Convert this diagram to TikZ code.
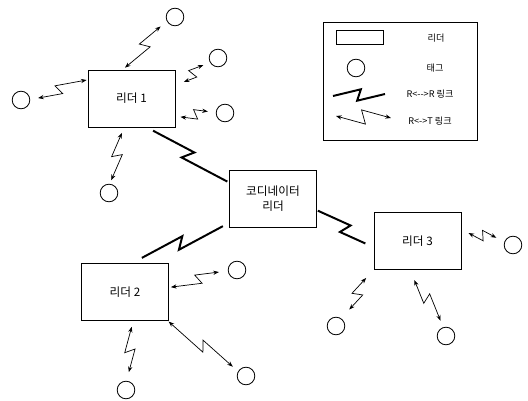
\documentclass[tikz,border=0pt]{standalone}
\usepackage{fontspec}
\newfontfamily\krfont{Noto Sans CJK KR}
\usetikzlibrary{calc,arrows.meta}
\begin{document}
\begin{tikzpicture}[
  x=0.025cm, y=-0.025cm,
  font=\krfont\fontsize{8.3}{11}\selectfont,
  rnode/.style={rectangle, draw, minimum width=2.175cm, minimum height=1.425cm, inner sep=0pt, align=center},
  tnode/.style={circle, draw, minimum size=0.44cm, inner sep=0pt},
  keytext/.style={font=\krfont\fontsize{6.5}{8}\selectfont},
  zig/.style={to path={-- ($(\tikztostart)!0.54!(\tikztotarget)!#1!90:(\tikztotarget)$) -- ($(\tikztostart)!0.46!(\tikztotarget)!#1!-90:(\tikztotarget)$) -- (\tikztotarget)}},
  rrlink/.style={line width=1.4pt, miter limit=4, zig=#1},
  rrlink/.default=4pt,
  rtlink/.style={line width=0.5pt, {Stealth[length=4pt,width=3pt]}-{Stealth[length=4pt,width=3pt]}, zig=#1},
  rtlink/.default=-3.5pt,
  line width=0.6pt
]
  \useasboundingbox (0,0) rectangle (528,401);

  \node[rnode] (l1) at (131.5,98.5) {리더 1};
  \node[rnode] (c) at (273,198.5) {코디네이터\\리더};
  \node[rnode] (l2) at (125,292) {리더 2};
  \node[rnode] (l3) at (417.5,241) {리더 3};

  \node[tnode] (t11) at (175,17) {};
  \node[tnode] (t12) at (218,58) {};
  \node[tnode] (t13) at (225,113) {};
  \node[tnode] (t14) at (21,100) {};
  \node[tnode] (t15) at (109,193) {};
  \node[tnode] (t21) at (237,270) {};
  \node[tnode] (t22) at (246,376) {};
  \node[tnode] (t23) at (126,390) {};
  \node[tnode] (t31) at (513,245) {};
  \node[tnode] (t32) at (336,326) {};
  \node[tnode] (t33) at (446,336) {};

  \draw[rrlink, shorten <=5pt, shorten >=1.4pt] (l1.-62) to (c.160);
  \draw[rrlink, shorten <=5pt, shorten >=7.8pt] (c.209) to (l2.76);
  \draw[rrlink, shorten <=0.7pt, shorten >=6.4pt] (c.-15) to (l3.188);

  \draw[rtlink, shorten <=2.1pt, shorten >=5.7pt] (l1.107) to (t11.208);
  \draw[rtlink, shorten <=6.4pt, shorten >=5pt] (l1.17) to (t12.210);
  \draw[rtlink, shorten <=3.6pt, shorten >=5.7pt] (l1.-22) to (t13.177);
  \draw[rtlink, shorten <=0.7pt, shorten >=5.7pt] (l1.157) to (t14.3);
  \draw[rtlink, shorten <=4.3pt, shorten >=2.8pt] (l1.256) to (t15.86);
  \draw[rtlink, shorten <=1.4pt, shorten >=6.4pt] (l2.6) to (t21.186);
  \draw[rtlink, shorten <=0.7pt, shorten >=5pt] (l2.-34) to (t22.150);
  \draw[rtlink, shorten <=4.3pt, shorten >=6.4pt] (l2.-74) to (t23.87);
  \draw[rtlink, shorten <=5.7pt, shorten >=6.4pt] (l3.15) to (t31.161);
  \draw[rtlink, shorten <=7.8pt, shorten >=8.5pt] (l3.south west) to (t32.56);
  \draw[rtlink, shorten <=7.8pt, shorten >=5pt] (l3.256) to (t33.108);

  \node[draw, minimum width=3.85cm, minimum height=2.95cm] (key) at (400,81) {};
  \node[draw, minimum width=1.175cm, minimum height=0.35cm, inner sep=0pt] (keyr) at (359.5,37) {};
  \node[tnode] (keyt) at (356,68) {};
  \coordinate (rr1) at (333,96);
  \coordinate (rr2) at (385,94);
  \coordinate (rt1) at (336,116);
  \coordinate (rt2) at (391,118);
  \draw[rrlink=4pt] (rr1) to (rr2);
  \draw[rtlink=-5pt] (rt1) to (rt2);
  \node[keytext] (keyrl) at (436,38) {리더};
  \node[keytext] (keytl) at (435,68) {태그};
  \node[keytext] (keyrrl) at (430,94) {R<-->R 링크};
  \node[keytext] (keyrtl) at (430,121) {R<->T 링크};
\end{tikzpicture}
\end{document}
